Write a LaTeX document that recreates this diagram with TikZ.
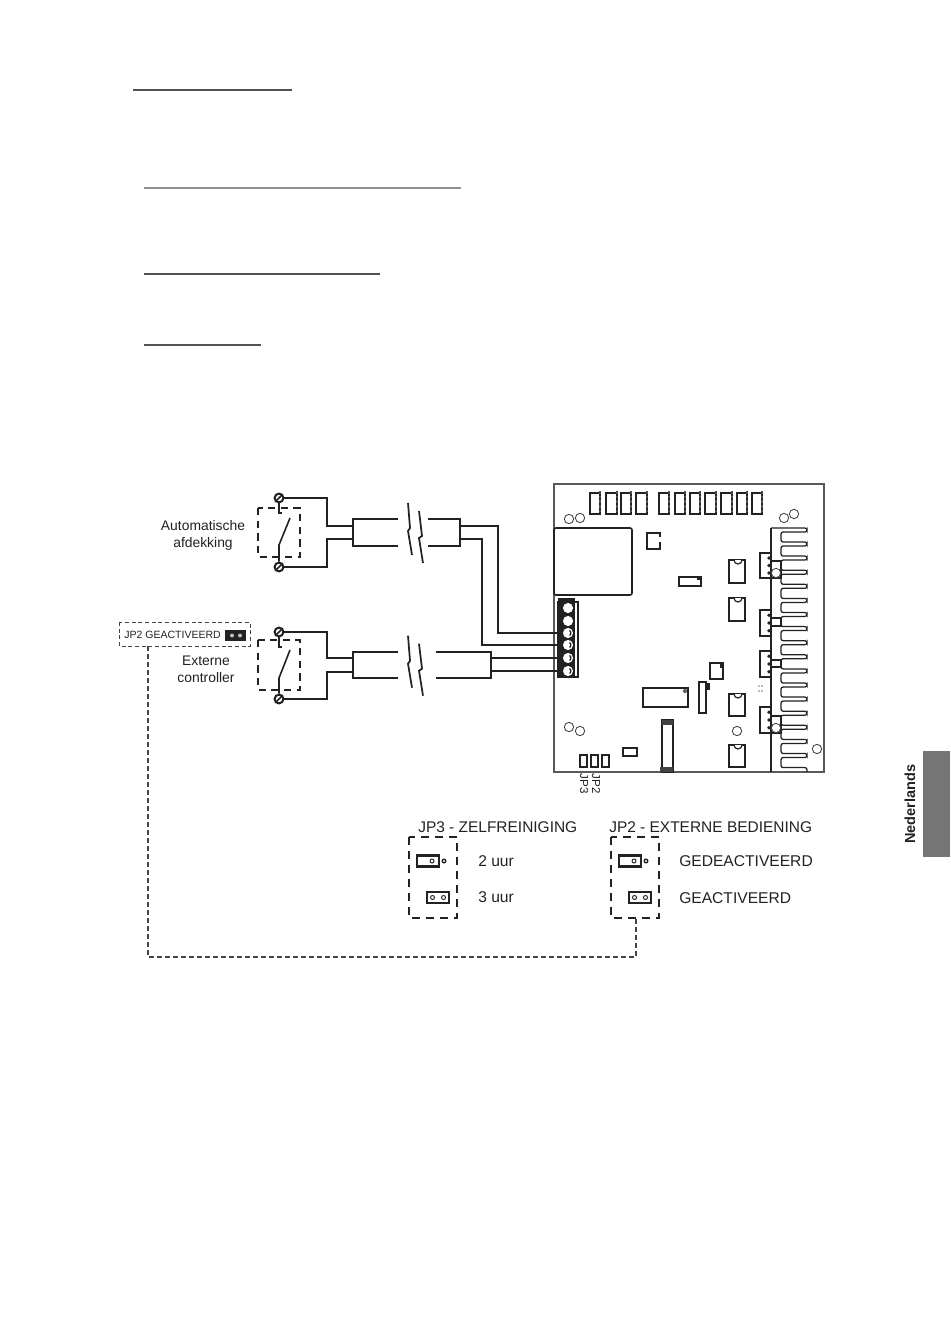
\documentclass[tikz,border=0pt]{standalone}
\usepackage{fontspec}
\usetikzlibrary{calc}
\setmainfont{Liberation Sans}
\definecolor{ink}{HTML}{222222}
\definecolor{tabgray}{HTML}{757575}
\tikzset{
  px/.style={x=0.75pt,y=-0.75pt},
  lbl/.style={inner sep=0pt,text=ink,font=\fontsize{10.4}{13}\selectfont,align=center},
  lblbig/.style={inner sep=0pt,text=ink,anchor=west,font=\fontsize{11.7}{14}\selectfont},
  wire/.style={draw=ink,line width=2.2pt},
  wireright/.style={draw=ink,line width=1.7pt},
  wirethin/.style={draw=ink,line width=1.5pt},
  pcb/.style={draw=ink!75,line width=1pt},
  part/.style={draw=ink,line width=0.95pt,fill=white},
  hole/.style={circle,draw=ink!85,line width=0.65pt,minimum size=7pt,inner sep=0pt},
  screw/.style={circle,draw=ink,line width=1.5pt,fill=white,minimum size=6.6pt,inner sep=0pt},
  boxdash/.style={draw=ink,line width=1.2pt,dash pattern=on 6pt off 4.5pt},
  swdash/.style={draw=ink,line width=1.2pt,dash pattern=on 5.5pt off 4pt},
  flagdash/.style={draw=ink!85,line width=0.6pt,dash pattern=on 3pt off 2pt},
  linkdash/.style={draw=ink!85,line width=0.85pt,dash pattern=on 3.6pt off 2.4pt},
  jumper/.style={draw=ink,line width=1.9pt,fill=white},
  pin/.style={circle,draw=ink,line width=0.7pt,minimum size=3pt,inner sep=0pt,fill=white},
  rule/.style={draw=ink!78,line width=0.8pt},
}
\begin{document}
\begin{tikzpicture}[px]
\useasboundingbox (0,0) rectangle (950,1333);
\fill[white] (0,0) rectangle (950,1333);

% heading rules
\draw[rule] (133,90) -- (292,90);
\draw[rule,draw=ink!50,line width=1pt] (144,188) -- (461,188);
\draw[rule] (144,274) -- (380,274);
\draw[rule] (144,345) -- (261,345);

% side tab
\fill[tabgray] (923,751) rectangle (950,857);
\node[rotate=90,inner sep=0pt,text=ink] (taal) at (910,804) {\fontsize{10.9}{13}\selectfont\bfseries Nederlands};

% board
\draw[pcb] (554,484) rectangle (824,772);
\draw[part,line width=1.2pt,rounded corners=1.5pt] (554,528) rectangle (632,595);
\foreach \a/\b in {590/600,606/617,621/631,636/647,659/669,675/685,690/700,705/716,721/732,737/747,752/762}{
  \draw[part,line width=1.2pt] (\a,493) rectangle (\b,514);
  \draw[ink!80,line width=1.3pt,dash pattern=on 2pt off 1.5pt] (\b,491) -- (\b,514);
}
\node[hole] (h1) at (569,519) {};
\node[hole] (h2) at (580,518) {};
\node[hole] (h3) at (784,518) {};
\node[hole] (h4) at (794,514) {};
\node[hole] (h5) at (569,727) {};
\node[hole] (h6) at (580,731) {};
\node[hole] (h7) at (737,731) {};
\node[hole] (h8) at (817,749) {};
% chips
\draw[part,line width=1.2pt] (647,533) rectangle (660,549);
\fill[white] (658,537) rectangle (661,542);
\draw[part] (679,577) rectangle (701,586);
\fill[ink] (697,577) rectangle (701,580);
\foreach \y/\yy in {560/583,598/621,694/716,745/767}{
  \draw[part] (729,\y) rectangle (745,\yy);
  \draw[ink,line width=0.9pt,fill=white] (734,\y) arc[start angle=180,end angle=360,radius=3pt];
}
\draw[part,line width=1.2pt] (710,663) rectangle (723,679);
\fill[ink] (720,664) rectangle (723,668);
\draw[part] (643,688) rectangle (688,707);
\fill[ink!70] (685,691) circle[radius=1.6pt];
\draw[part,line width=1.2pt] (699,682) rectangle (706,713);
\fill[ink] (706,683) rectangle (710,690);
\foreach \a in {580,591,602}
  \draw[part,line width=1.1pt] (\a,755) rectangle (\a+7,767);
\draw[part,line width=1.6pt] (623,748) rectangle (637,756);
\draw[part] (662,720) rectangle (673,772);
\fill[ink!85] (662,720) rectangle (673,725);
\fill[ink!85] (660,767) rectangle (673,772);
\foreach \x in {759,762} \foreach \y in {686,691} \fill[ink!60] (\x,\y) circle[radius=0.7pt];

% heat sink comb
\draw[ink,line width=0.95pt] (771,528) -- (771,772);
\draw[ink,line width=0.95pt,rounded corners=1.6pt]
  (771,528) -- (807,528) -- (807,532) -- (781,532) -- (781,542)
  \foreach \n in {0,...,15}{ -- (807,542+14.1*\n) -- (807,546+14.1*\n) -- (781,546+14.1*\n) -- (781,556.1+14.1*\n) }
  -- (807,767.6) -- (807,772);
% plug connectors
\foreach \y/\yy/\ra/\rb in {553/578/561/578,610/636/618/626,651/677/660/667,707/733/716/733}{
  \draw[part] (771,\ra) rectangle (781,\rb);
  \draw[part,line width=1.1pt] (760,\y) rectangle (771,\yy);
  \foreach \k in {0.2,0.5,0.8}
    \fill[ink] (769,\y+\k*\yy-\k*\y) circle[radius=1.4pt];
}
\node[hole,fill=white] (h9) at (776,573) {};
\node[hole,fill=white] (h10) at (776,728) {};

% terminal block
\fill[ink] (558,598) rectangle (575,678);
\draw[part,fill=none,line width=0.9pt] (558,602) rectangle (578,677);
\foreach \i/\y in {1/608,2/621,3/633,4/645,5/658,6/671}
  \node[circle,fill=white,minimum size=7.6pt,inner sep=0pt] (b\i) at (568,\y) {};
\foreach \i in {3,4,5,6}
  \draw[ink,line width=0.9pt] ($(b\i)+(1.5,-2.6)$) arc[start angle=60,end angle=-60,radius=2.2pt];

% switches
\node[screw] (s1t) at (279,498) {};
\node[screw] (s1b) at (279,567) {};
\node[screw] (s2t) at (279,632) {};
\node[screw] (s2b) at (279,699) {};
\foreach \s in {s1t,s1b,s2t,s2b}
  \draw[ink,line width=1.1pt] (\s.south west) -- (\s.north east);
\draw[swdash] (258,508) rectangle (300,557);
\draw[swdash] (258,640) rectangle (300,690);
\draw[ink,line width=1.2pt] (s1t.south) -- (279,513) -- (282,513);
\draw[ink,line width=1.2pt] (s1b.north) -- (279,545) -- (290,518);
\draw[ink,line width=1.2pt] (s2t.south) -- (279,647) -- (282,647);
\draw[ink,line width=1.2pt] (s2b.north) -- (279,678) -- (290,650);

% cables
\coordinate (c1a) at (353,526);
\coordinate (c1b) at (353,539);
\coordinate (c2a) at (353,658);
\coordinate (c2b) at (353,672);
\draw[wire] (s1t.east) -- (327,498) -- (327,526) -- (c1a);
\draw[wire] (s1b.east) -- (327,567) -- (327,539) -- (c1b);
\draw[wire] (s2t.east) -- (327,632) -- (327,658) -- (c2a);
\draw[wire] (s2b.east) -- (327,699) -- (327,672) -- (c2b);

\draw[wirethin] (398,519) -- (353,519) -- (353,546) -- (398,546);
\draw[wirethin] (428,519) -- (460,519) -- (460,546) -- (428,546);
\draw[wirethin] (398,652) -- (353,652) -- (353,678) -- (398,678);
\draw[wirethin] (436,652) -- (491,652) -- (491,678) -- (436,678);
\foreach \d in {0,132.7}{
  \draw[ink,line width=1.3pt] (408,503+\d) -- (410,528+\d) -- (408,531+\d) -- (412,555+\d);
  \draw[ink,line width=1.3pt] (419,511+\d) -- (422,536+\d) -- (419,538+\d) -- (423,563+\d);
}
\draw[wireright] (460,526) -- (498,526) -- (498,633) -- (b3.west);
\draw[wireright] (460,539) -- (482,539) -- (482,645) -- (b4.west);
\draw[wireright] (491,658) -- (b5.west);
\draw[wireright] (491,671) -- (b6.west);

% labels
\node[lbl] (lauto) at (203,535.5) {Automatische\\afdekking};
\node[lbl] (lext) at (206,669) {Externe\\controller};

% JP2 flag
\draw[flagdash] (119,622) rectangle (250,646);
\node[inner sep=0pt,anchor=west,text=ink] (lflag) at (124,635) {\fontsize{7.9}{10}\selectfont JP2 GEACTIVEERD};
\fill[ink] (225,630) rectangle (246,641);
\fill[white!75!black] (232,635.5) circle[radius=1.5pt] (240,635.5) circle[radius=1.5pt];

% board jumper labels
\node[rotate=-90,inner sep=0pt,anchor=west,text=ink] (ljp3) at (584,773.5) {\fontsize{8.7}{10}\selectfont JP3};
\node[rotate=-90,inner sep=0pt,anchor=west,text=ink] (ljp2) at (596,773.5) {\fontsize{8.7}{10}\selectfont JP2};

% legend
\node[lblbig,font=\fontsize{11.6}{14}\selectfont] (t3) at (418,827) {JP3 - ZELFREINIGING};
\node[lblbig,font=\fontsize{11.6}{14}\selectfont] (t2) at (609,827) {JP2 - EXTERNE BEDIENING};
\node[lblbig] (u2) at (478,861) {2 uur};
\node[lblbig] (u3) at (478,897) {3 uur};
\node[lblbig] (g1) at (679,861) {GEDEACTIVEERD};
\node[lblbig] (g2) at (679,898) {GEACTIVEERD};
\draw[boxdash] (409,837) rectangle (457,918);
\draw[boxdash] (611,837) rectangle (659,918);
\foreach \x in {0,202}{
  \draw[jumper] (417+\x,855.5) rectangle (439+\x,866.5);
  \node[pin] at (432+\x,861) {};
  \fill[ink] (444+\x,861) circle[radius=1.9pt];
  \fill[white] (444+\x,861) circle[radius=0.8pt];
}
\draw[jumper] (427,892) rectangle (449,903);
\node[pin] at (432.5,897.5) {};
\node[pin] at (443.5,897.5) {};
\draw[jumper] (629,892) rectangle (651,903);
\node[pin] at (634.5,897.5) {};
\node[pin] at (645.5,897.5) {};

% dashed link
\coordinate (la) at (148,646);
\coordinate (lb) at (636,918);
\draw[linkdash] (la) -- (la |- 0,957) -- (lb |- 0,957) -- (lb);
\end{tikzpicture}
\end{document}
